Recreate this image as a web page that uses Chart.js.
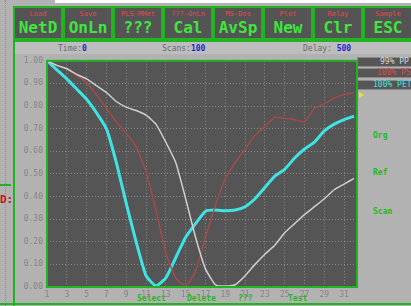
<!DOCTYPE html>
<html>
<head>
<meta charset="utf-8">
<script src="https://cdn.jsdelivr.net/npm/chart.js@4"></script>
<style>
  html, body { margin: 0; padding: 0; }
  body {
    width: 411px; height: 306px; overflow: hidden; position: relative;
    background: #b2b2b2; font-family: "DejaVu Sans Mono", monospace;
  }
  .abs { position: absolute; }
  .btn {
    position: absolute; top: 6px; width: 46px; height: 30px;
    background: #545454; border: 2px solid #22b322; text-align: center;
  }
  .btn .sub { font-size: 7px; color: #e04a4a; line-height: 8px; margin-top: 2px; }
  .btn .main { font-size: 16px; font-weight: bold; color: #3ee63e; line-height: 18px; margin-top: 1px; }
  .hdr { font-size: 8px; color: #6a6a6a; top: 44px; }
  .hdr b { color: #2424d0; }
  .leg {
    position: absolute; left: 357px; width: 60px; height: 8px;
    background: #565656; border: 1px solid #8a8a8a; font-size: 8px; line-height: 8px;
  }
  .side { position: absolute; left: 373px; font-size: 8px; font-weight: bold; color: #22b822; }
  .foot { position: absolute; top: 294px; font-size: 8px; font-weight: bold; color: #22b822; }
</style>
</head>
<body>
<div class="abs" style="left:55px;top:0;width:356px;height:3px;background:#fff"></div>
<div class="abs" style="left:5px;top:0;width:0;height:306px;border-left:1px dotted #3cc83c"></div>
<div class="abs" style="left:0;top:184px;width:11px;height:2px;background:#22b322"></div>
<div class="abs" style="left:0;top:193px;font-size:11px;font-weight:bold;color:#d01010">D:</div>
<div class="abs" style="left:13px;top:40px;width:2px;height:266px;background:#22b322"></div>
<div class="abs" style="left:13px;top:40px;width:398px;height:2px;background:#22b322"></div>
<div class="abs" style="left:15px;top:42px;width:396px;height:12px;background:#bdbdbd"></div>
<div class="abs" style="left:0;top:303px;width:411px;height:2px;background:#22b322"></div>

<div class="btn" style="left:13px"><div class="sub">Load</div><div class="main">NetD</div></div>
<div class="btn" style="left:63px"><div class="sub">Save</div><div class="main">OnLn</div></div>
<div class="btn" style="left:113px"><div class="sub">PLS-MMet</div><div class="main">???</div></div>
<div class="btn" style="left:163px"><div class="sub">???-OnLn</div><div class="main">Cal</div></div>
<div class="btn" style="left:213px"><div class="sub">MS-Dos</div><div class="main">AvSp</div></div>
<div class="btn" style="left:263px"><div class="sub">Plot</div><div class="main">New</div></div>
<div class="btn" style="left:313px"><div class="sub">Relay</div><div class="main">Clr</div></div>
<div class="btn" style="left:363px"><div class="sub">Sample</div><div class="main">ESC</div></div>

<div class="abs hdr" style="left:58px">Time:<b>0</b></div>
<div class="abs hdr" style="left:162px">Scans:<b>100</b></div>
<div class="abs hdr" style="left:303px">Delay: <b>500</b></div>

<div class="leg" style="top:57px"><span style="margin-left:22px;color:#d8d8d8">99% PP</span></div>
<div class="leg" style="top:68px"><span style="margin-left:19px;color:#e04848">100% PS</span></div>
<div class="leg" style="top:80px"><span style="margin-left:15px;color:#40e0e0">100% PET</span></div>
<div class="abs" style="left:359px;top:92px;width:0;height:0;border-top:3px solid transparent;border-bottom:3px solid transparent;border-left:5px solid #f0e020"></div>
<div class="side" style="top:131px">Org</div>
<div class="side" style="top:168px">Ref</div>
<div class="side" style="top:207px">Scan</div>

<div class="foot" style="left:137px">Select</div>
<div class="foot" style="left:187px">Delete</div>
<div class="foot" style="left:238px">???</div>
<div class="foot" style="left:288px">Test</div>

<canvas id="plot" width="346" height="250" class="abs" style="left:14px;top:52px"></canvas>

<script>
// scan number along the x axis
const scanNo = [1, 2, 3, 4, 5, 6, 7, 8, 9, 10, 11, 12, 13, 14, 15, 16,
  17, 18, 19, 20, 21, 22, 23, 24, 25, 26, 27, 28, 29, 30, 31, 32]
const scanTicks = [1, 3, 5, 7, 9, 11, 13, 15, 17, 19, 21, 23, 25, 27, 29, 31]

// 99% PP (grey trace)
const ppValues = [1.00, 0.98, 0.965, 0.94, 0.92, 0.89, 0.86, 0.82, 0.795, 0.78, 0.76, 0.72,
  0.64, 0.55, 0.39, 0.22, 0.08, 0.01, 0.004, 0.01, 0.05, 0.10, 0.145, 0.185,
  0.24, 0.28, 0.32, 0.355, 0.39, 0.43, 0.455, 0.48]
// 100% PS (red trace)
const psValues = [1.00, 0.98, 0.965, 0.935, 0.905, 0.85, 0.79, 0.73, 0.68, 0.62, 0.51, 0.34,
  0.15, 0.04, 0.005, 0.07, 0.22, 0.36, 0.48, 0.55, 0.61, 0.67, 0.71, 0.75,
  0.745, 0.74, 0.73, 0.79, 0.81, 0.835, 0.85, 0.86]
// 100% PET (cyan trace)
const petValues = [1.00, 0.96, 0.92, 0.875, 0.83, 0.77, 0.70, 0.55, 0.37, 0.20, 0.05, 0.005,
  0.04, 0.13, 0.22, 0.28, 0.335, 0.34, 0.337, 0.34, 0.355, 0.39, 0.44, 0.49,
  0.52, 0.57, 0.61, 0.64, 0.69, 0.72, 0.74, 0.755]

const toPoints = (vals) => vals.map((v, i) => ({ x: scanNo[i], y: v }))

// dark plot background + green frame
const plotFrame = {
  id: 'plotFrame',
  beforeDraw(chart) {
    const a = chart.chartArea
    const ctx = chart.ctx
    ctx.save()
    ctx.fillStyle = '#555555'
    ctx.fillRect(a.left, a.top, a.right - a.left, a.bottom - a.top)
    ctx.restore()
  },
  afterDraw(chart) {
    const a = chart.chartArea
    const ctx = chart.ctx
    ctx.save()
    ctx.strokeStyle = '#22b322'
    ctx.lineWidth = 2
    ctx.strokeRect(a.left, a.top, a.right - a.left, a.bottom - a.top)
    ctx.restore()
  },
}

const tickFont = { family: 'DejaVu Sans Mono', size: 8 }

new Chart(document.getElementById('plot').getContext('2d'), {
  type: 'line',
  data: {
    datasets: [
      {
        label: '99% PP',
        data: toPoints(ppValues),
        borderColor: '#cfcfcf',
        borderWidth: 1.5,
        pointRadius: 0,
        tension: 0.15,
      },
      {
        label: '100% PS',
        data: toPoints(psValues),
        borderColor: '#b04848',
        borderWidth: 1.3,
        pointRadius: 0,
        tension: 0.15,
      },
      {
        label: '100% PET',
        data: toPoints(petValues),
        borderColor: '#3ee4e4',
        borderWidth: 3,
        pointRadius: 0,
        tension: 0.15,
      },
    ],
  },
  options: {
    responsive: false,
    animation: false,
    layout: { padding: { top: 2, right: 3, left: 0, bottom: 0 } },
    plugins: { legend: { display: false }, tooltip: { enabled: false } },
    scales: {
      x: {
        type: 'linear',
        min: 1,
        max: 32.3,
        afterBuildTicks: (s) => { s.ticks = scanTicks.map((v) => ({ value: v })) },
        afterFit: (s) => { s.height = 15 },
        grid: { color: 'rgba(200,200,200,0.45)', drawTicks: false },
        border: { display: false, dash: [1, 2] },
        ticks: { color: '#858585', font: tickFont, padding: 3, maxRotation: 0, autoSkip: false },
      },
      y: {
        min: 0,
        max: 1,
        afterFit: (s) => { s.width = 33 },
        grid: { color: 'rgba(200,200,200,0.45)', drawTicks: false },
        border: { display: false, dash: [1, 2] },
        ticks: {
          stepSize: 0.1,
          color: '#858585',
          font: tickFont,
          padding: 4,
          callback: (v) => v.toFixed(2),
        },
      },
    },
  },
  plugins: [plotFrame],
})
</script>
</body>
</html>
